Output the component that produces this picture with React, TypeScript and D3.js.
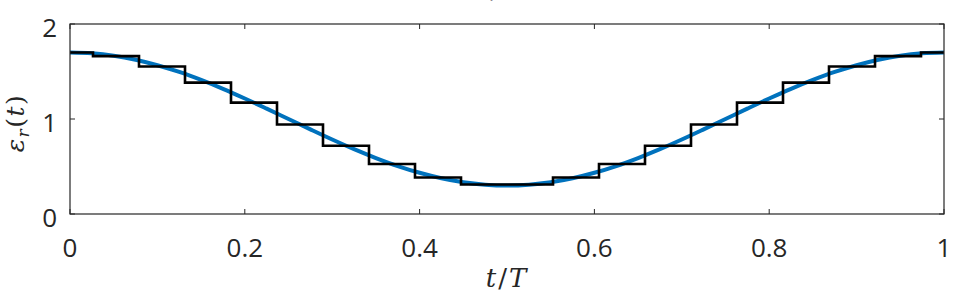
import React, { useEffect, useRef } from "react";
import * as d3 from "d3";

// curve samples (t, eps)
const curveT = [0, 0.025, 0.05, 0.075, 0.1, 0.125, 0.15, 0.175, 0.2, 0.225, 0.25, 0.275, 0.3, 0.325, 0.35, 0.375, 0.4, 0.425, 0.45, 0.475, 0.5,
  0.525, 0.55, 0.575, 0.6, 0.625, 0.65, 0.675, 0.7, 0.725, 0.75, 0.775, 0.8, 0.825, 0.85, 0.875, 0.9, 0.925, 0.95, 0.975, 1];
const curveV = [1.7, 1.691, 1.666, 1.624, 1.566, 1.495, 1.411, 1.318, 1.216, 1.109, 1.0, 0.891, 0.784, 0.682, 0.589, 0.505, 0.434, 0.376, 0.334, 0.309, 0.3,
  0.309, 0.334, 0.376, 0.434, 0.505, 0.589, 0.682, 0.784, 0.891, 1.0, 1.109, 1.216, 1.318, 1.411, 1.495, 1.566, 1.624, 1.666, 1.691, 1.7];

// staircase levels, one per step (19 intervals, centred on k/19)
const stepCount = 19;
const stepV = [1.7, 1.662, 1.552, 1.383, 1.172, 0.942, 0.719, 0.526, 0.384, 0.31,
  0.31, 0.384, 0.526, 0.719, 0.942, 1.172, 1.383, 1.552, 1.662, 1.7];

const xTicks = [0, 0.2, 0.4, 0.6, 0.8, 1];
const yTicks = [0, 1, 2];

const W = 957, H = 297;
const margin = { top: 24, right: 13, bottom: 83, left: 70 };

export default function App() {
  const ref = useRef<SVGSVGElement>(null);

  useEffect(() => {
    const svg = d3.select(ref.current);
    svg.selectAll("*").remove();

    const x = d3.scaleLinear().domain([0, 1]).range([margin.left, W - margin.right]);
    const y = d3.scaleLinear().domain([0, 2]).range([H - margin.bottom, margin.top]);
    const sans = "'Open Sans', 'Liberation Sans', sans-serif";
    const serif = "'DejaVu Serif', serif";

    // partially cut title fragment
    svg.append("text").attr("x", 496).attr("y", -2).attr("text-anchor", "middle")
      .attr("font-family", serif).attr("font-style", "italic")
      .attr("font-size", 22).attr("fill", "#222").text("/");

    const clip = svg.append("defs").append("clipPath").attr("id", "plot");
    clip.append("rect").attr("x", x(0)).attr("y", y(2)).attr("width", x(1) - x(0)).attr("height", y(0) - y(2));

    const g = svg.append("g").attr("clip-path", "url(#plot)");

    const line = d3.line<number>().x((_, i) => x(curveT[i])).y((d) => y(d)).curve(d3.curveCatmullRom);
    g.append("path").datum(curveV).attr("d", line).attr("fill", "none")
      .attr("stroke", "#0072BD").attr("stroke-width", 4);

    const pts: [number, number][] = [];
    stepV.forEach((v, k) => {
      const a = Math.max(0, (k - 0.5) / stepCount);
      const b = Math.min(1, (k + 0.5) / stepCount);
      pts.push([a, v], [b, v]);
    });
    g.append("path").datum(pts)
      .attr("d", d3.line<[number, number]>().x((d) => x(d[0])).y((d) => y(d[1])))
      .attr("fill", "none").attr("stroke", "#000").attr("stroke-width", 2.6);

    // box
    svg.append("rect").attr("x", x(0)).attr("y", y(2)).attr("width", x(1) - x(0)).attr("height", y(0) - y(2))
      .attr("fill", "none").attr("stroke", "#262626").attr("stroke-width", 1.2);

    // ticks inward
    const tl = 5;
    xTicks.forEach((t) => {
      svg.append("line").attr("x1", x(t)).attr("x2", x(t)).attr("y1", y(0)).attr("y2", y(0) - tl).attr("stroke", "#262626");
      svg.append("line").attr("x1", x(t)).attr("x2", x(t)).attr("y1", y(2)).attr("y2", y(2) + tl).attr("stroke", "#262626");
      svg.append("text").attr("x", x(t)).attr("y", y(0) + 43).attr("text-anchor", "middle")
        .attr("font-family", sans).attr("font-size", 26).attr("fill", "#262626").text(d3.format("")(t));
    });
    yTicks.forEach((t) => {
      svg.append("line").attr("x1", x(0)).attr("x2", x(0) + tl).attr("y1", y(t)).attr("y2", y(t)).attr("stroke", "#262626");
      svg.append("line").attr("x1", x(1)).attr("x2", x(1) - tl).attr("y1", y(t)).attr("y2", y(t)).attr("stroke", "#262626");
      svg.append("text").attr("x", x(0) - 13).attr("y", y(t) + 13).attr("text-anchor", "end")
        .attr("font-family", sans).attr("font-size", 26).attr("fill", "#262626").text(String(t));
    });

    // axis labels
    const xl = svg.append("text").attr("x", 507).attr("y", 287).attr("text-anchor", "middle")
      .attr("font-family", serif).attr("font-size", 26).attr("letter-spacing", 2).attr("fill", "#262626");
    xl.append("tspan").attr("font-style", "italic").text("t");
    xl.append("tspan").text("/");
    xl.append("tspan").attr("font-style", "italic").text("T");

    const yl = svg.append("text").attr("transform", `translate(24,123) rotate(-90)`)
      .attr("text-anchor", "middle").attr("font-family", serif).attr("font-size", 25)
      .attr("letter-spacing", 1.5).attr("fill", "#262626");
    yl.append("tspan").attr("font-style", "italic").text("ε");
    yl.append("tspan").attr("font-style", "italic").attr("font-size", 17).attr("dy", 5).text("r");
    yl.append("tspan").attr("dy", -5).text("(");
    yl.append("tspan").attr("font-style", "italic").text("t");
    yl.append("tspan").text(")");
  }, []);

  return (
    <svg ref={ref} width={W} height={H}
      style={{ position: "absolute", left: 0, top: 0, background: "#fff" }} />
  );
}
